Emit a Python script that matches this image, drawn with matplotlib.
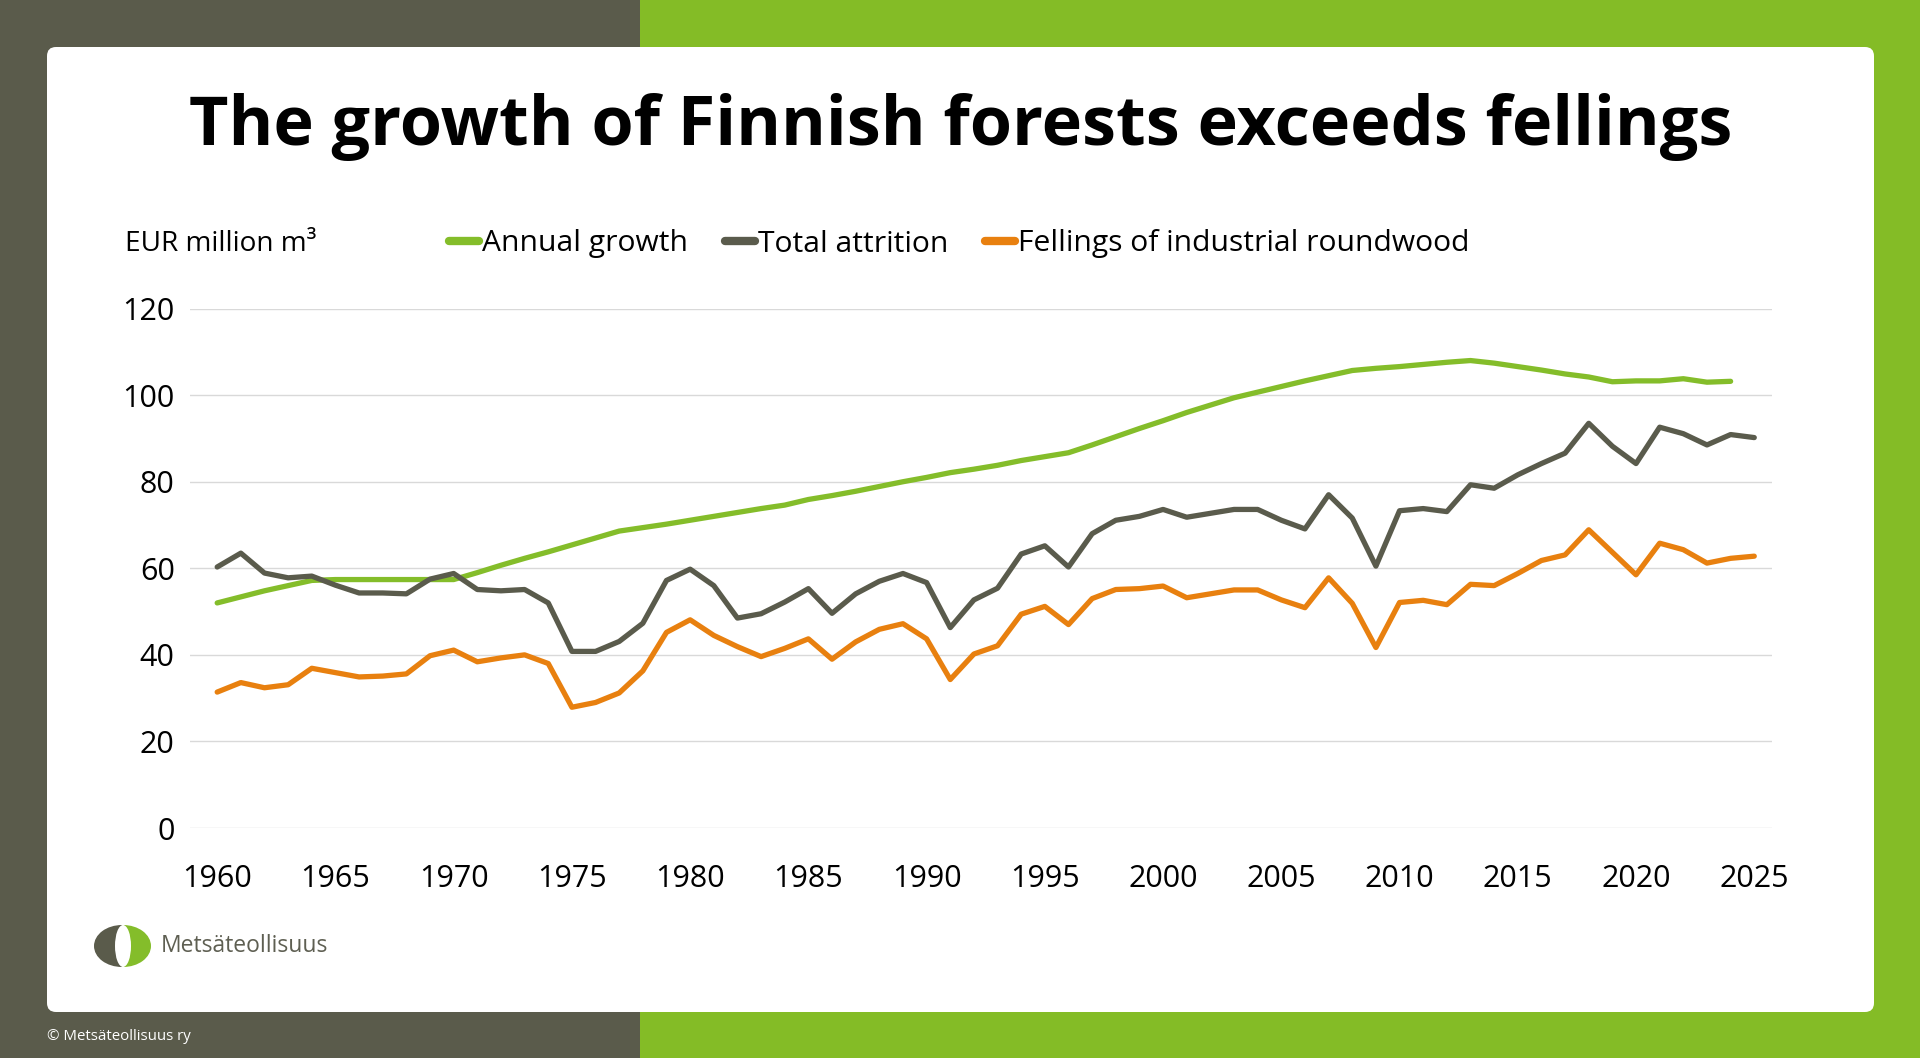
import matplotlib
matplotlib.use('Agg')
import matplotlib.pyplot as plt
from matplotlib.patches import Rectangle, FancyBboxPatch, Ellipse
from matplotlib.lines import Line2D

# ---------------- data ----------------
years = list(range(1960, 2026))
growth_years = list(range(1960, 2025))
annual_growth = [52.0, 53.4, 54.8, 56.0, 57.2, 57.4, 57.4, 57.4, 57.4, 57.4,
                 57.4, 59.0, 60.7, 62.3, 63.8, 65.4, 67.0, 68.6, 69.4, 70.2,
                 71.1, 72.0, 72.9, 73.8, 74.6, 75.9, 76.8, 77.8, 78.9, 80.0,
                 81.0, 82.1, 82.9, 83.8, 84.9, 85.8, 86.7, 88.5, 90.4, 92.3,
                 94.1, 96.0, 97.7, 99.4, 100.7, 102.0, 103.3, 104.5, 105.7, 106.2,
                 106.6, 107.1, 107.6, 108.0, 107.4, 106.6, 105.8, 104.9, 104.2, 103.1,
                 103.3, 103.3, 103.8, 103.0, 103.2]
total_attrition = [60.3, 63.5, 58.9, 57.8, 58.2, 56.1, 54.3, 54.3, 54.1, 57.5,
                   58.8, 55.1, 54.8, 55.1, 52.0, 40.8, 40.8, 43.1, 47.3, 57.2,
                   59.8, 56.0, 48.5, 49.5, 52.2, 55.3, 49.6, 54.1, 57.0, 58.8,
                   56.7, 46.3, 52.7, 55.4, 63.3, 65.2, 60.3, 68.0, 71.1, 72.0,
                   73.6, 71.8, 72.7, 73.6, 73.6, 71.1, 69.1, 77.0, 71.6, 60.5,
                   73.3, 73.8, 73.1, 79.3, 78.5, 81.6, 84.2, 86.6, 93.5, 88.2,
                   84.2, 92.6, 91.1, 88.5, 90.9, 90.2]
fellings = [31.4, 33.6, 32.4, 33.1, 36.9, 35.9, 34.9, 35.1, 35.6, 39.8,
            41.1, 38.4, 39.3, 40.0, 38.0, 27.9, 29.0, 31.2, 36.3, 45.2,
            48.1, 44.5, 41.9, 39.6, 41.5, 43.7, 39.0, 43.0, 45.9, 47.2,
            43.7, 34.3, 40.2, 42.1, 49.4, 51.2, 47.0, 53.0, 55.1, 55.3,
            55.9, 53.2, 54.1, 55.0, 55.0, 52.7, 50.9, 57.8, 51.9, 41.7,
            52.1, 52.6, 51.6, 56.3, 56.0, 58.8, 61.8, 63.1, 68.9, 63.7,
            58.5, 65.8, 64.3, 61.2, 62.3, 62.8]
series_names = ["Annual growth", "Total attrition", "Fellings of industrial roundwood"]
x_ticks = list(range(1960, 2026, 5))
y_ticks = [0, 20, 40, 60, 80, 100, 120]
title = "The growth of Finnish forests exceeds fellings"
unit_label = "EUR million m\u00b3"
logo_text = "Mets\u00e4teollisuus"
footer_text = "\u00a9 Mets\u00e4teollisuus ry"

# ---------------- style ----------------
DARK = '#5A5B4B'
GREEN_BG = '#84BC26'
C_GREEN = '#84BD2A'
C_DARK = '#5A5B4C'
C_ORANGE = '#E8800F'
FONT = 'Open Sans'
plt.rcParams['font.family'] = [FONT, 'DejaVu Sans']

W, H = 1920, 1058
fig = plt.figure(figsize=(19.2, 10.58), dpi=100)

bg = fig.add_axes([0, 0, 1, 1])
bg.set_xlim(0, W)
bg.set_ylim(H, 0)
bg.axis('off')
bg.add_patch(Rectangle((0, 0), 640, H, color=DARK, lw=0))
bg.add_patch(Rectangle((640, 0), W - 640, H, color=GREEN_BG, lw=0))
r = 9
bg.add_patch(FancyBboxPatch((47 + r, 47 + r), 1827 - 2 * r, 965 - 2 * r,
                            boxstyle=f'round,pad={r}', fc='white', ec='none'))

# logo
cx, cy = 122, 946
dark_e = Ellipse((cx, cy), 56, 42, fc=DARK, ec='none')
bg.add_patch(dark_e)
clip = Rectangle((0, 0), cx, H, transform=bg.transData)
dark_e.set_clip_path(clip)
green_e = Ellipse((cx + 1, cy), 56, 42, fc='#84BD2A', ec='none')
bg.add_patch(green_e)
clip2 = Rectangle((cx, 0), 200, H, transform=bg.transData)
green_e.set_clip_path(clip2)
bg.add_patch(Ellipse((cx + 1, cy), 16, 42, fc='white', ec='none'))
bg.text(161, 946, logo_text, fontsize=16.5, color='#5E5F52', va='center', ha='left')
bg.text(47, 1036, footer_text, fontsize=10.8, color='white', va='center', ha='left')

# title, fit width
t = bg.text(961, 145, title, fontsize=54, fontweight='bold', color='black',
            ha='center', va='baseline')
fig.canvas.draw()
rend = fig.canvas.get_renderer()
wt = t.get_window_extent(rend).width
t.set_fontsize(54 * 1543 / wt)

bg.text(125, 244, unit_label, fontsize=20.2, color='black', va='center', ha='left')

# ---------------- chart ----------------
ax = fig.add_axes([190 / W, 1 - 828 / H, (1772 - 190) / W, (828 - 308.6) / H])
ax.set_facecolor('none')
lw = 3.8
ax.plot(growth_years, annual_growth, color=C_GREEN, lw=lw, solid_joinstyle='round', solid_capstyle='round')
ax.plot(years, total_attrition, color=C_DARK, lw=lw, solid_joinstyle='round', solid_capstyle='round')
ax.plot(years, fellings, color=C_ORANGE, lw=lw, solid_joinstyle='round', solid_capstyle='round')
ax.set_xlim(1958.85, 2025.75)
ax.set_ylim(0, 120)
ax.set_xticks(x_ticks)
ax.set_yticks(y_ticks)
ax.set_xticklabels([str(v) for v in x_ticks])
ax.tick_params(axis='both', length=0, labelsize=22, colors='black')
ax.tick_params(axis='y', pad=11)
ax.tick_params(axis='x', pad=26)
ax.grid(axis='y', color='#D9D9D9', lw=1)
ax.set_axisbelow(True)
for s in ax.spines.values():
    s.set_visible(False)

handles = [Line2D([], [], color=c, lw=6, solid_capstyle='round') for c in (C_GREEN, C_DARK, C_ORANGE)]
leg = fig.legend(handles, series_names, loc='center left',
                 bbox_to_anchor=(449 / W, 1 - 244 / H), ncol=3, frameon=False,
                 fontsize=21.6, handlelength=1.0, handletextpad=0.1,
                 columnspacing=1.22, borderpad=0, borderaxespad=0)

fig.savefig('out.png', dpi=100)
